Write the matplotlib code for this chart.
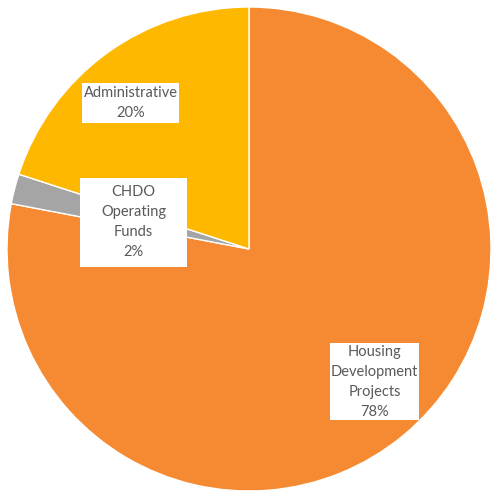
import matplotlib
matplotlib.use("Agg")
import matplotlib.pyplot as plt
from matplotlib.patches import Rectangle

categories = ["Housing\nDevelopment\nProjects", "CHDO\nOperating\nFunds", "Administrative"]
values = [78, 2, 20]
colors = ["#F68A32", "#A5A5A5", "#FFB800"]
label_pos = [(0.519, -0.548), (-0.477, 0.110), (-0.488, 0.603)]
box_px = [(89, 77), (107, 89), (97, 40)]

fig = plt.figure(figsize=(4.91, 4.93), dpi=100)
W, H = 491, 493
cx, cy, r = 249, 244, 242
ax = fig.add_axes([(cx - r) / W, (cy - r) / H, 2 * r / W, 2 * r / H])
wedges, _ = ax.pie(values, colors=colors, startangle=90, counterclock=False,
                   radius=1, wedgeprops=dict(edgecolor="white", linewidth=1))
ax.set_xlim(-1, 1)
ax.set_ylim(-1, 1)
ax.set_aspect("auto")
ax.axis("off")

for cat, v, (x, y), (bw, bh) in zip(categories, values, label_pos, box_px):
    w, h = bw / r, bh / r
    ax.add_patch(Rectangle((x - w / 2, y - h / 2), w, h, facecolor="white",
                           edgecolor="none", zorder=3))
    ax.text(x, y, f"{cat}\n{v}%", ha="center", va="center", fontsize=10.5,
            family="Lato", color="#595959", linespacing=1.55, zorder=4)

fig.savefig("out.png", dpi=100)
